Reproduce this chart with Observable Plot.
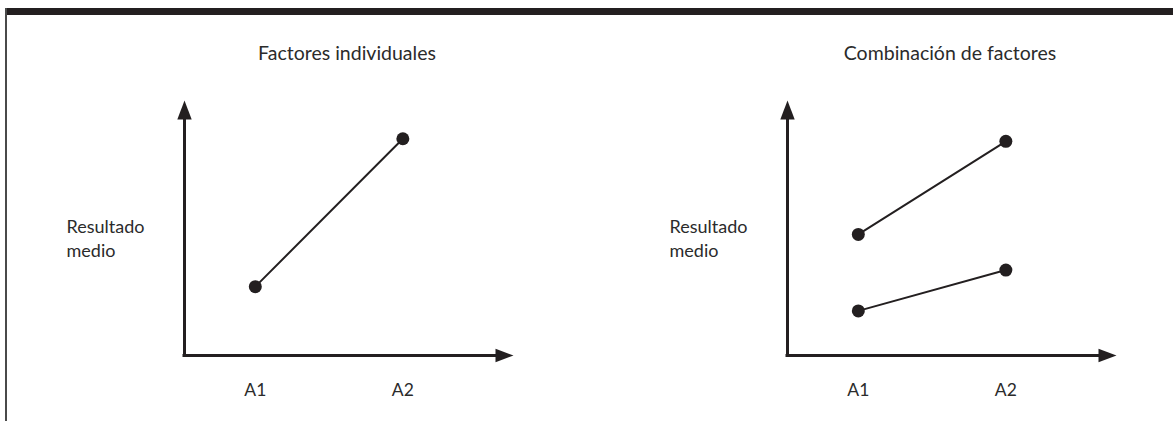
<!DOCTYPE html>
<html><head><meta charset="utf-8">
<script src="https://cdn.jsdelivr.net/npm/d3@7"></script>
<script src="https://cdn.jsdelivr.net/npm/@observablehq/plot@0.6"></script>
<style>
html,body{margin:0;padding:0;background:#fff;overflow:hidden}
#wrap{position:relative;width:1173px;height:421px;background:#fff}
#bar{position:absolute;left:5px;top:8px;width:1168px;height:7px;background:#231f20;z-index:2}
#edge{position:absolute;left:5px;top:8px;width:1.5px;height:413px;background:#4a4a4a;z-index:2}
</style></head><body>
<div id="wrap"><div id="bar"></div><div id="edge"></div></div>
<script>
// ---- data ----
const panelTitles = ["Factores individuales", "Combinación de factores"];
const levels = ["A1", "A2"];
const yLabelLines = ["Resultado", "medio"];
const individual = [2.7, 8.5];
const comboHigh = [4.75, 8.4];
const comboLow = [1.75, 3.35];

// ---- layout / style ----
const ink = "#231f20";
const textInk = "#2b2b2b";
const xDomain = [0.52, 2.75];
const yDomain = [0, 10];
const arrowUp = {draw(ctx) { ctx.moveTo(0, 0); ctx.lineTo(7.2, 19); ctx.lineTo(-7.2, 19); ctx.closePath(); }};
const arrowRight = {draw(ctx) { ctx.moveTo(0, 0); ctx.lineTo(-18, -6.7); ctx.lineTo(-18, 6.7); ctx.closePath(); }};

function panel(title, series) {
  const rows = series.flatMap((vals, s) => vals.map((v, i) => ({series: s, level: levels[i], pos: i + 1, value: v})));
  return Plot.plot({
    width: 570, height: 421,
    marginLeft: 184, marginRight: 57, marginTop: 100, marginBottom: 66,
    x: {domain: xDomain, axis: null},
    y: {domain: yDomain, axis: null},
    style: {background: "transparent", fontFamily: "Lato, sans-serif", fontSize: "18px", color: ink},
    marks: [
      Plot.ruleX([xDomain[0]], {stroke: ink, strokeWidth: 3, insetTop: 12, strokeLinecap: "square"}),
      Plot.ruleY([yDomain[0]], {stroke: ink, strokeWidth: 3, insetRight: 12, strokeLinecap: "square"}),
      Plot.dot([[xDomain[0], yDomain[1]]], {x: d => d[0], y: d => d[1], symbol: arrowUp, fill: ink, stroke: "none", r: 9}),
      Plot.dot([[xDomain[1], yDomain[0]]], {x: d => d[0], y: d => d[1], symbol: arrowRight, fill: ink, stroke: "none", r: 9}),
      Plot.line(rows, {x: "pos", y: "value", z: "series", stroke: ink, strokeWidth: 2}),
      Plot.dot(rows, {x: "pos", y: "value", r: 6.5, fill: ink, stroke: "none"}),
      Plot.text(levels, {x: (d, i) => i + 1, text: d => d, frameAnchor: "bottom", lineAnchor: "bottom", dy: 40, fill: textInk, fontSize: 17.5}),
      Plot.text([yLabelLines.join("\n")], {text: d => d, frameAnchor: "left", textAnchor: "start", lineAnchor: "top", dx: -118, dy: -12.5, lineHeight: 1.36, fill: textInk, fontSize: 18}),
      Plot.text([title], {text: d => d, frameAnchor: "top", lineAnchor: "bottom", dy: -41, dx: -2, fill: textInk, fontSize: 19.5})
    ]
  });
}

const wrap = document.getElementById("wrap");
[[panelTitles[0], [individual], 0], [panelTitles[1], [comboHigh, comboLow], 603]].forEach(([t, s, left]) => {
  const svg = panel(t, s);
  svg.style.position = "absolute";
  svg.style.left = left + "px";
  svg.style.top = "0px";
  wrap.appendChild(svg);
});
</script>
</body></html>
